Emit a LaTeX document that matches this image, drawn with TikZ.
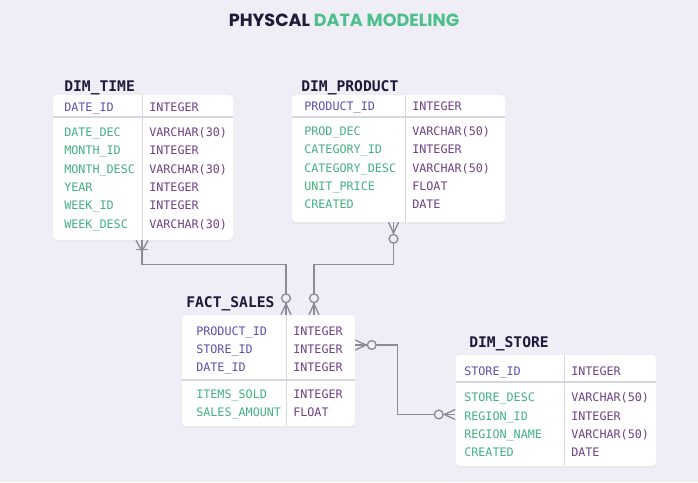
\documentclass[tikz,border=0pt]{standalone}
\usepackage{fontspec}
\setmainfont{Poppins}
\setmonofont{DejaVu Sans Mono}
\usepackage{xcolor}
\usepackage{tikz}
\usetikzlibrary{calc,fit,shadows}

\definecolor{bg}{RGB}{239,238,246}
\definecolor{ink}{RGB}{30,27,58}
\definecolor{mint}{RGB}{77,190,140}
\definecolor{keyc}{RGB}{90,80,178}
\definecolor{fldc}{RGB}{66,178,128}
\definecolor{typc}{RGB}{112,64,134}
\definecolor{linec}{RGB}{140,138,153}
\definecolor{gridc}{RGB}{215,214,224}

\newcommand\cellfont{\ttfamily\fontsize{8.8}{10}\selectfont}

\begin{document}
\begin{tikzpicture}[
    x=0.75pt, y=-0.75pt,
    tbl/.style={fill=white, rounded corners=3pt, inner sep=0pt,
      drop shadow={shadow xshift=0pt, shadow yshift=-1.5pt, opacity=0.07}},
    tname/.style={font=\ttfamily\bfseries\fontsize{11}{13}\selectfont, text=ink, anchor=west, inner sep=0pt,
      text height=7.5pt, text depth=0pt},
    cell/.style={font=\cellfont, anchor=west, inner sep=0pt, text height=6.4pt, text depth=0pt},
    key/.style={cell, text=keyc},
    fld/.style={cell, text=fldc},
    typ/.style={cell, text=typc},
    hsep/.style={draw=gridc, line width=1.3pt},
    vsep/.style={draw=gridc, line width=0.6pt},
    rel/.style={draw=linec, line width=1pt},
    zeromany/.pic={
      \draw[rel] (-5,0) -- (0,-11) -- (5,0);
      \draw[rel, fill=bg] (0,-16.5) circle (3.3pt);
    },
    onemany/.pic={
      \draw[rel] (-6,0) -- (0,-11) -- (6,0);
      \draw[rel] (-6,-9) -- (6,-9);
    }
  ]
    \path[use as bounding box, fill=bg] (0,0) rectangle (698,482);

    % title
    \node[font=\bfseries\fontsize{13.2}{15}\selectfont] (title) at (344,20)
      {\textcolor{ink}{PHYSCAL} \textcolor{mint}{DATA MODELING}};

    % DIM_TIME
    \node[tbl, fit={(53,95) (233,240)}] (time) {};
    \node[tname] (timettl) at (64,86) {DIM\_TIME};
    \draw[hsep] (53,117) -- (233,117);
    \draw[vsep] (142,95) -- (142,240);
    \node[key] (t1) at (64,107) {DATE\_ID};
    \node[typ] (t1t) at (149,107) {INTEGER};
    \node[fld] (t2) at (64,132) {DATE\_DEC};
    \node[typ] (t2t) at (149,132) {VARCHAR(30)};
    \node[fld] (t3) at (64,150) {MONTH\_ID};
    \node[typ] (t3t) at (149,150) {INTEGER};
    \node[fld] (t4) at (64,169) {MONTH\_DESC};
    \node[typ] (t4t) at (149,169) {VARCHAR(30)};
    \node[fld] (t5) at (64,187) {YEAR};
    \node[typ] (t5t) at (149,187) {INTEGER};
    \node[fld] (t6) at (64,205) {WEEK\_ID};
    \node[typ] (t6t) at (149,205) {INTEGER};
    \node[fld] (t7) at (64,224) {WEEK\_DESC};
    \node[typ] (t7t) at (149,224) {VARCHAR(30)};

    % DIM_PRODUCT
    \node[tbl, fit={(292,95) (505,222)}] (prod) {};
    \node[tname] (prodttl) at (301,86) {DIM\_PRODUCT};
    \draw[hsep] (292,117) -- (505,117);
    \draw[vsep] (405,95) -- (405,222);
    \node[key] (p1) at (304,106) {PRODUCT\_ID};
    \node[typ] (p1t) at (412,106) {INTEGER};
    \node[fld] (p2) at (304,131) {PROD\_DEC};
    \node[typ] (p2t) at (412,131) {VARCHAR(50)};
    \node[fld] (p3) at (304,149.5) {CATEGORY\_ID};
    \node[typ] (p3t) at (412,149.5) {INTEGER};
    \node[fld] (p4) at (304,168) {CATEGORY\_DESC};
    \node[typ] (p4t) at (412,168) {VARCHAR(50)};
    \node[fld] (p5) at (304,186.5) {UNIT\_PRICE};
    \node[typ] (p5t) at (412,186.5) {FLOAT};
    \node[fld] (p6) at (304,204.5) {CREATED};
    \node[typ] (p6t) at (412,204.5) {DATE};

    % FACT_SALES
    \node[tbl, fit={(182,315) (355,426)}] (sales) {};
    \node[tname] (salesttl) at (186,302) {FACT\_SALES};
    \draw[hsep] (182,380) -- (355,380);
    \draw[vsep] (286,315) -- (286,426);
    \node[key] (s1) at (196,331.5) {PRODUCT\_ID};
    \node[typ] (s1t) at (293,331.5) {INTEGER};
    \node[key] (s2) at (196,349.5) {STORE\_ID};
    \node[typ] (s2t) at (293,349.5) {INTEGER};
    \node[key] (s3) at (196,367.5) {DATE\_ID};
    \node[typ] (s3t) at (293,367.5) {INTEGER};
    \node[fld] (s4) at (196,394.5) {ITEMS\_SOLD};
    \node[typ] (s4t) at (293,394.5) {INTEGER};
    \node[fld] (s5) at (196,412.5) {SALES\_AMOUNT};
    \node[typ] (s5t) at (293,412.5) {FLOAT};

    % DIM_STORE
    \node[tbl, fit={(455.5,355) (656,466)}] (store) {};
    \node[tname] (storettl) at (469,342) {DIM\_STORE};
    \draw[hsep] (455.5,382) -- (656,382);
    \draw[vsep] (564,355) -- (564,466);
    \node[key] (d1) at (464,371.5) {STORE\_ID};
    \node[typ] (d1t) at (571,371.5) {INTEGER};
    \node[fld] (d2) at (464,397.5) {STORE\_DESC};
    \node[typ] (d2t) at (571,397.5) {VARCHAR(50)};
    \node[fld] (d3) at (464,416) {REGION\_ID};
    \node[typ] (d3t) at (571,416) {INTEGER};
    \node[fld] (d4) at (464,434) {REGION\_NAME};
    \node[typ] (d4t) at (571,434) {VARCHAR(50)};
    \node[fld] (d5) at (464,452) {CREATED};
    \node[typ] (d5t) at (571,452) {DATE};

    % relations
    \draw[rel] ($(time.south)+(-1,0)$) -- ++(0,24.5) -| ($(sales.north)+(17.5,0)$);
    \draw[rel] ($(prod.south)+(-5,0)$) -- ++(0,42.5) -| ($(sales.north)+(45.5,0)$);
    \draw[rel] ($(sales.east)+(0,-25.5)$) -- ++(42.5,0) |- ($(store.west)+(0,4)$);

    \pic[rotate=180] at ($(time.south)+(-1,0)$) {onemany};
    \pic at ($(sales.north)+(17.5,0)$) {zeromany};
    \pic[rotate=180] at ($(prod.south)+(-5,0)$) {zeromany};
    \pic at ($(sales.north)+(45.5,0)$) {zeromany};
    \pic[rotate=-90] at ($(sales.east)+(0,-25.5)$) {zeromany};
    \pic[rotate=90] at ($(store.west)+(0,4)$) {zeromany};
  \end{tikzpicture}
\end{document}
